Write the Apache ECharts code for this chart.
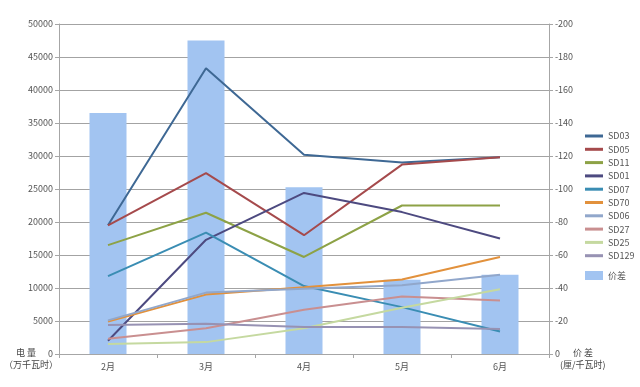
<!DOCTYPE html>
<html><head><meta charset="utf-8">
<script src="https://cdn.jsdelivr.net/npm/echarts@6/dist/echarts.min.js"></script>
<style>html,body{margin:0;padding:0;background:#fff}#c{width:640px;height:387px}</style>
</head><body><div id="c"></div>
<script>
const categories = ['2月','3月','4月','5月','6月'];
const SD03  = [19500, 43300, 30200, 29000, 29800];
const SD05  = [19500, 27400, 18000, 28700, 29800];
const SD11  = [16500, 21400, 14700, 22500, 22500];
const SD01  = [2000, 17300, 24400, 21500, 17500];
const SD07  = [11800, 18400, 10300, 7100, 3400];
const SD70  = [4900, 9000, 10100, 11300, 14700];
const SD06  = [5100, 9300, 9900, 10400, 12000];
const SD27  = [2300, 3900, 6700, 8700, 8100];
const SD25  = [1500, 1800, 3900, 7000, 9800];
const SD129 = [4400, 4600, 4100, 4100, 3800];
const priceDiff = [-146, -190, -101, -45, -48];

const lineNames = ['SD03','SD05','SD11','SD01','SD07','SD70','SD06','SD27','SD25','SD129'];
const lineData = [SD03,SD05,SD11,SD01,SD07,SD70,SD06,SD27,SD25,SD129];
const lineColors = ['#3E6894','#A54A4C','#8DA246','#4D4A80','#3A8DB3','#E2913C','#91A7CB','#C98F90','#C5D9A0','#9792B3'];

const font = 'Noto Sans CJK SC';
const chart = echarts.init(document.getElementById('c'), null, {renderer:'canvas'});
const series = lineNames.map((n,i)=>({
  name:n, type:'line', yAxisIndex:0, data:lineData[i], symbol:'none',
  lineStyle:{color:lineColors[i], width:2}, itemStyle:{color:lineColors[i]}, z:3
}));
series.unshift({
  name:'价差', type:'bar', yAxisIndex:1, data:priceDiff, barWidth:37,
  itemStyle:{color:'#A2C4F1'}, z:1
});
chart.setOption({
  animation:false,
  backgroundColor:'#fff',
  textStyle:{fontFamily:font},
  grid:{left:59, right:91, top:24, bottom:33},
  legend:[{
    orient:'vertical', left:585, top:130, padding:0, itemWidth:18, itemHeight:3, itemGap:1.3, icon:'rect',
    data:lineNames, textStyle:{fontSize:9, color:'#555', fontFamily:font, lineHeight:12}
  },{
    orient:'vertical', left:585, top:271, padding:0, itemWidth:18, itemHeight:9, icon:'rect',
    data:['价差'], textStyle:{fontSize:9, color:'#555', fontFamily:font}
  }],
  xAxis:{
    type:'category', data:categories, boundaryGap:true,
    axisLine:{lineStyle:{color:'#A6A6A6'}},
    axisTick:{show:true, lineStyle:{color:'#A6A6A6'}, length:4},
    axisLabel:{fontSize:9, color:'#555', margin:8}
  },
  yAxis:[{
    type:'value', min:0, max:50000, interval:5000, position:'left',
    axisLine:{show:true, lineStyle:{color:'#A6A6A6'}},
    axisTick:{show:true, length:4, lineStyle:{color:'#A6A6A6'}},
    axisLabel:{fontSize:9, color:'#555', margin:6, formatter:v=>String(v)},
    splitLine:{show:true, lineStyle:{color:'#A3A3A3', width:1}}
  },{
    type:'value', min:-200, max:0, interval:20, inverse:true, position:'right',
    axisLine:{show:true, lineStyle:{color:'#A6A6A6'}},
    axisTick:{show:true, length:4, lineStyle:{color:'#A6A6A6'}},
    axisLabel:{fontSize:9, color:'#555', margin:6, formatter:v=>String(v)},
    splitLine:{show:false}
  }],
  graphic:[
    {type:'text', left:16, top:348, style:{text:'电 量', fontSize:9, fill:'#444', fontFamily:font}},
    {type:'text', left:4, top:360, style:{text:'（万千瓦时）', fontSize:9, fill:'#444', fontFamily:font}},
    {type:'text', left:573, top:348, style:{text:'价 差', fontSize:9, fill:'#444', fontFamily:font}},
    {type:'text', left:560, top:360, style:{text:'(厘/千瓦时)', fontSize:9, fill:'#444', fontFamily:font}}
  ],
  series:series
});
</script></body></html>
